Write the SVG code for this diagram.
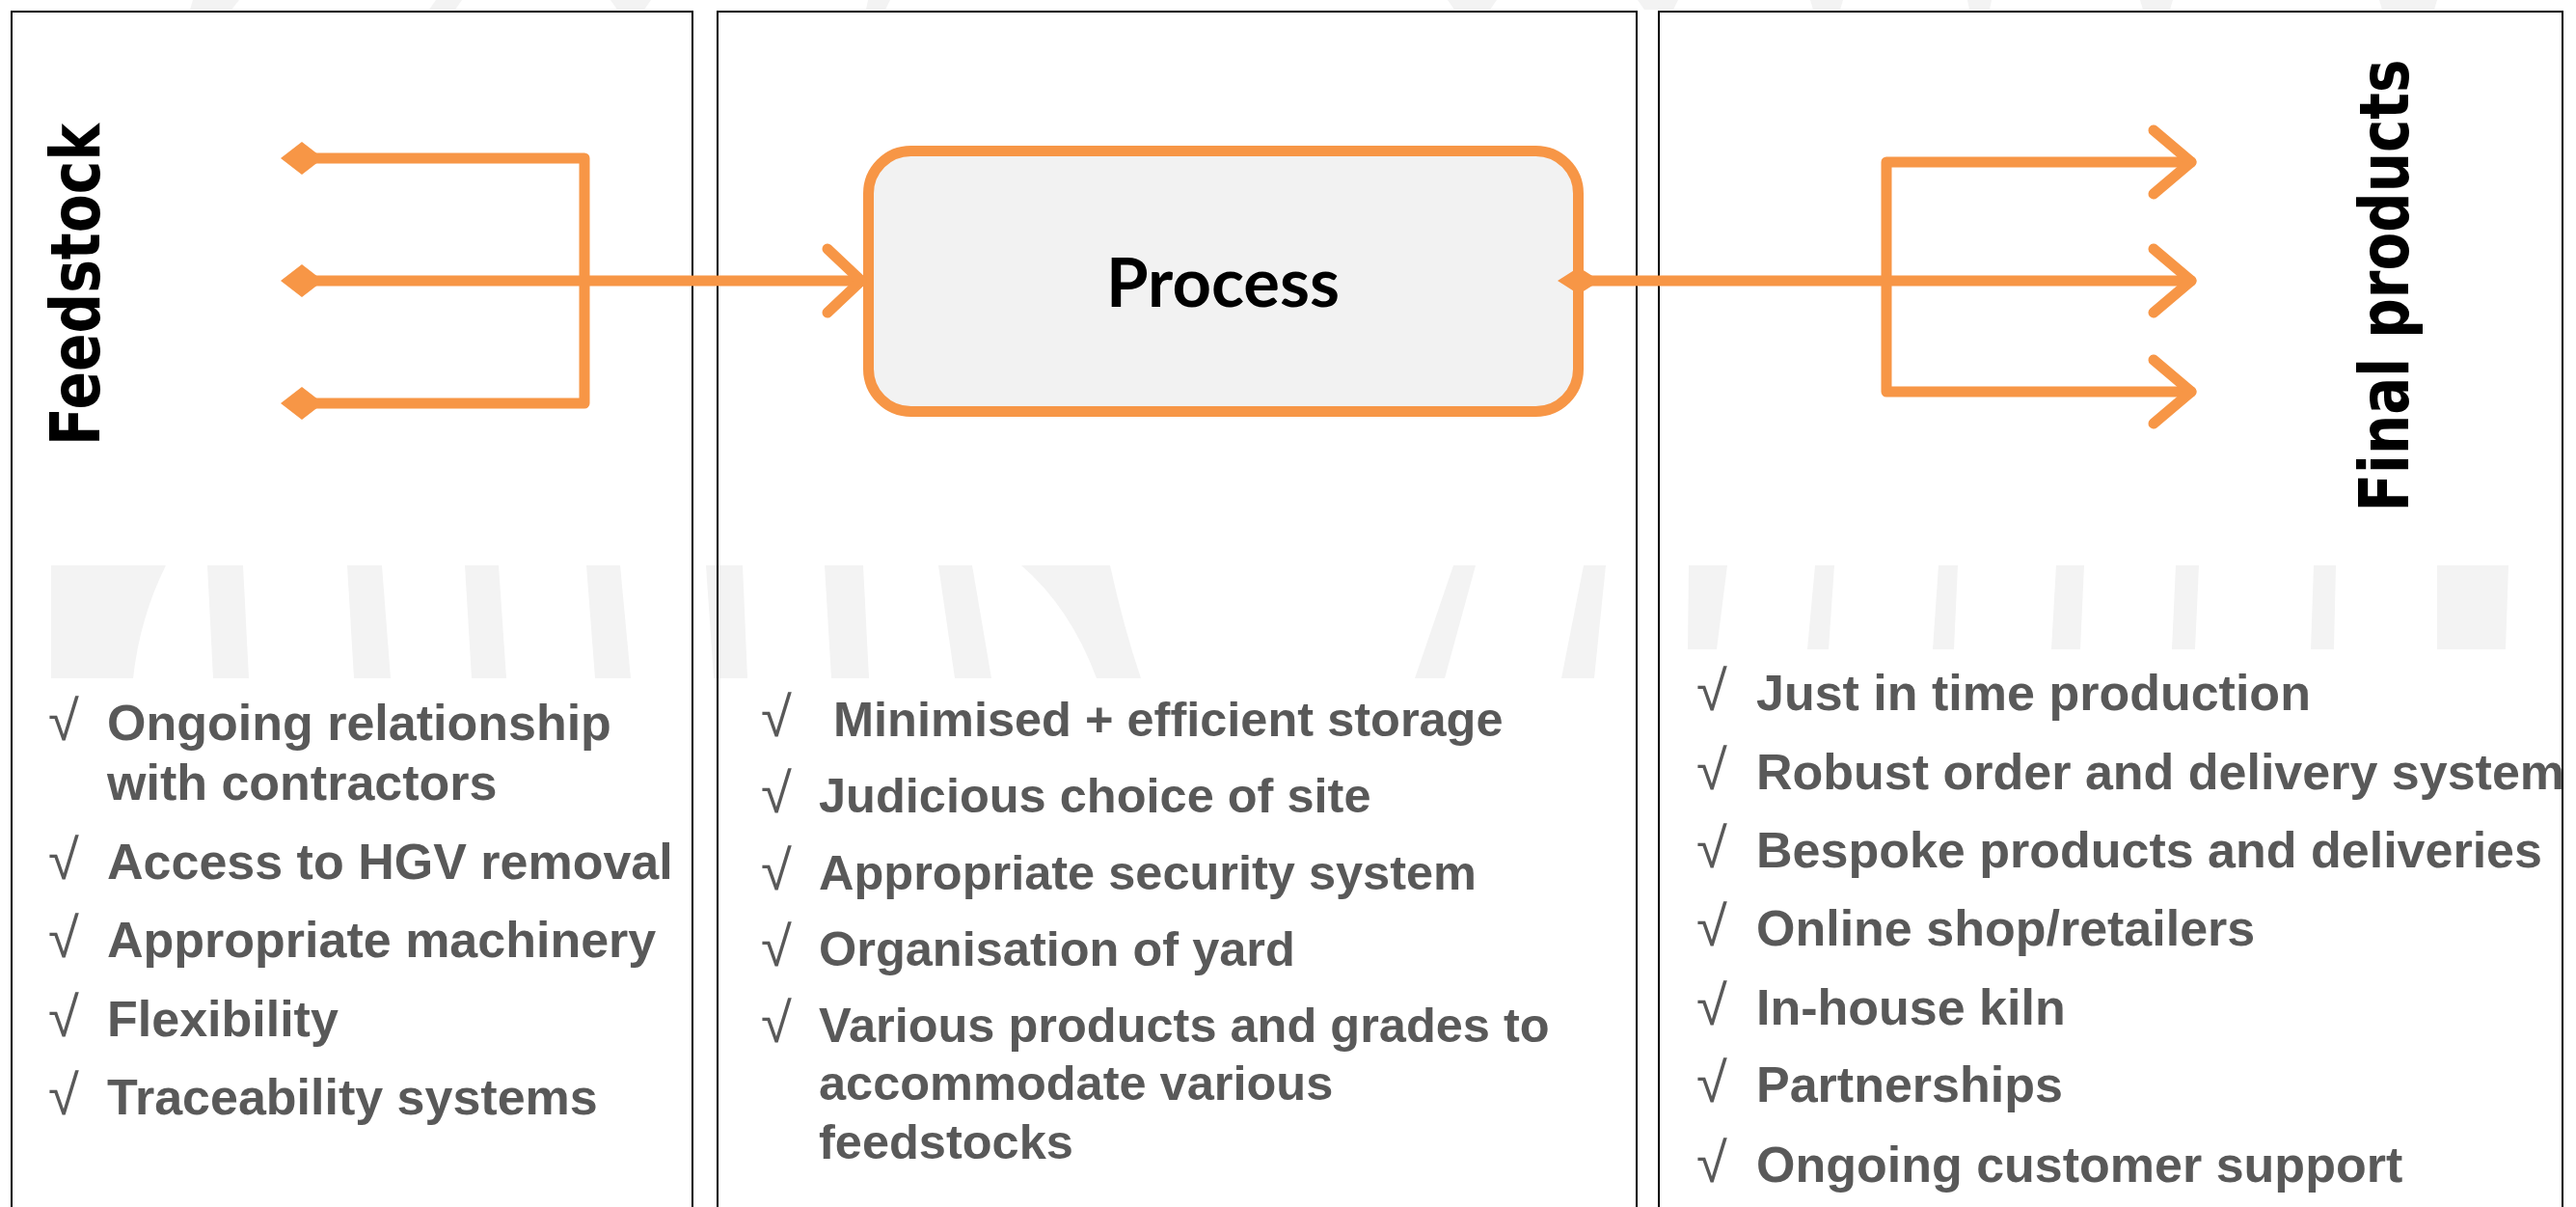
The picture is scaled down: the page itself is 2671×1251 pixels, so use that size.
<svg xmlns="http://www.w3.org/2000/svg" width="2671" height="1251" viewBox="0 0 2671 1251">
<defs>
<style>
.panel{fill:none;stroke:#000;stroke-width:2}
.conn{fill:none;stroke:#F79646;stroke-width:11;stroke-linecap:round;stroke-linejoin:round}
.dia{fill:#F79646}
.wm{fill:#F3F3F3}
.head{font-family:"DejaVu Sans",Verdana,sans-serif;font-weight:bold;font-size:72px;fill:#000}
.proc{font-family:Lato,"Open Sans",sans-serif;font-weight:bold;font-size:70px;fill:#000}
.b1{font-family:"Liberation Sans",Arial,sans-serif;font-weight:bold;font-size:52px;fill:#595959}
.b2{font-family:"Liberation Sans",Arial,sans-serif;font-weight:bold;font-size:50.5px;fill:#595959}
.chk{font-family:"Liberation Sans",Arial,sans-serif;font-weight:normal;font-size:58px;fill:#595959}
</style>
</defs>
<rect width="2671" height="1251" fill="#fff"/>
<g id="watermark">
<path class="wm" d="M53,586 L172,586 Q145,640 138,703 L53,703 Z"/>
<polygon class="wm" points="215,586 252,586 258,703 221,703"/>
<polygon class="wm" points="360,586 396,586 405,703 367,703"/>
<polygon class="wm" points="482,586 517,586 525,703 489,703"/>
<polygon class="wm" points="608,586 643,586 654,703 617,703"/>
<polygon class="wm" points="732,586 770,586 775,703 740,703"/>
<polygon class="wm" points="855,586 895,586 901,703 862,703"/>
<polygon class="wm" points="973,586 1008,586 1028,703 990,703"/>
<path class="wm" d="M1059,586 L1151,586 Q1165,650 1183,703 L1137,703 Q1110,630 1059,586 Z"/>
<polygon class="wm" points="1507,586 1530,586 1498,703 1467,703"/>
<polygon class="wm" points="1642,586 1665,586 1653,703 1619,703"/>
<polygon class="wm" points="1751,586 1791,586 1780,673 1750,673"/>
<polygon class="wm" points="1882,586 1902,586 1896,673 1874,673"/>
<polygon class="wm" points="2010,586 2030,586 2026,673 2004,673"/>
<polygon class="wm" points="2132,586 2161,586 2157,673 2127,673"/>
<polygon class="wm" points="2256,586 2280,586 2276,673 2252,673"/>
<polygon class="wm" points="2399,586 2422,586 2420,673 2396,673"/>
<polygon class="wm" points="2527,586 2601,586 2598,673 2527,673"/>
<polygon class="wm" points="200,0 248,0 240,10 197,10"/>
<polygon class="wm" points="452,0 479,0 472,10 445,10"/>
<polygon class="wm" points="633,0 675,0 668,10 640,10"/>
<polygon class="wm" points="900,0 923,0 918,10 898,10"/>
<polygon class="wm" points="1501,0 1552,0 1545,10 1508,10"/>
<polygon class="wm" points="1698,0 1740,0 1735,10 1705,10"/>
<polygon class="wm" points="1877,0 1911,0 1908,10 1880,10"/>
<polygon class="wm" points="2040,0 2065,0 2063,10 2042,10"/>
<polygon class="wm" points="2219,0 2253,0 2250,10 2222,10"/>
<polygon class="wm" points="2467,0 2527,0 2524,10 2470,10"/>
</g>
<g id="panel-feedstock">
<rect class="panel" x="12" y="12" width="706" height="1260"/>
<text class="head" transform="translate(103,295) rotate(-90)" text-anchor="middle" textLength="334" lengthAdjust="spacingAndGlyphs">Feedstock</text>
<text class="chk" x="50" y="767">√</text><text class="b1" x="111" y="767">Ongoing relationship</text>
<text class="b1" x="111" y="829">with contractors</text>
<text class="chk" x="50" y="911">√</text><text class="b1" x="111" y="911">Access to HGV removal</text>
<text class="chk" x="50" y="992">√</text><text class="b1" x="111" y="992">Appropriate machinery</text>
<text class="chk" x="50" y="1074">√</text><text class="b1" x="111" y="1074">Flexibility</text>
<text class="chk" x="50" y="1155">√</text><text class="b1" x="111" y="1155">Traceability systems</text>
</g>
<g id="panel-process">
<rect class="panel" x="744" y="12" width="953" height="1260"/>
<text class="chk" x="789" y="763">√</text><text class="b2" x="864" y="763">Minimised + efficient storage</text>
<text class="chk" x="789" y="842">√</text><text class="b2" x="849" y="842">Judicious choice of site</text>
<text class="chk" x="789" y="922">√</text><text class="b2" x="849" y="922">Appropriate security system</text>
<text class="chk" x="789" y="1001">√</text><text class="b2" x="849" y="1001">Organisation of yard</text>
<text class="chk" x="789" y="1080">√</text><text class="b2" x="849" y="1080">Various products and grades to</text>
<text class="b2" x="849" y="1140">accommodate various</text>
<text class="b2" x="849" y="1201">feedstocks</text>
</g>
<g id="panel-final">
<rect class="panel" x="1720" y="12" width="937" height="1260"/>
<text class="head" transform="translate(2497,296) rotate(-90)" text-anchor="middle" textLength="469" lengthAdjust="spacingAndGlyphs">Final products</text>
<text class="chk" x="1759" y="736">√</text><text class="b1" x="1821" y="736">Just in time production</text>
<text class="chk" x="1759" y="818">√</text><text class="b1" x="1821" y="818">Robust order and delivery system</text>
<text class="chk" x="1759" y="899">√</text><text class="b1" x="1821" y="899">Bespoke products and deliveries</text>
<text class="chk" x="1759" y="980">√</text><text class="b1" x="1821" y="980">Online shop/retailers</text>
<text class="chk" x="1759" y="1062">√</text><text class="b1" x="1821" y="1062">In-house kiln</text>
<text class="chk" x="1759" y="1142">√</text><text class="b1" x="1821" y="1142">Partnerships</text>
<text class="chk" x="1759" y="1225">√</text><text class="b1" x="1821" y="1225">Ongoing customer support</text>
</g>
<g id="node-process">
<rect x="900.5" y="156.5" width="736" height="270" rx="44" ry="44" fill="#F2F2F2" stroke="#F79646" stroke-width="11"/>
<text class="proc" x="1268" y="318" text-anchor="middle" textLength="242" lengthAdjust="spacingAndGlyphs">Process</text>
</g>
<g id="connectors">
<path class="conn" d="M313,164 H606 V418 H313"/>
<path class="conn" d="M313,291 H893"/>
<polyline class="conn" points="858,258 893,291 858,324"/>
<polygon class="dia" points="291,164 313,147 335,164 313,181"/>
<polygon class="dia" points="291,291 313,274 335,291 313,308"/>
<polygon class="dia" points="291,418 313,401 335,418 313,435"/>
<path class="conn" d="M1637,291 H2272"/>
<path class="conn" d="M2272,168 H1956 V406 H2272"/>
<polyline class="conn" points="2233,135 2272,168 2233,201"/>
<polyline class="conn" points="2233,258 2272,291 2233,324"/>
<polyline class="conn" points="2233,373 2272,406 2233,439"/>
<polygon class="dia" points="1615,291 1637,277 1659,291 1637,305"/>
</g>
</svg>
